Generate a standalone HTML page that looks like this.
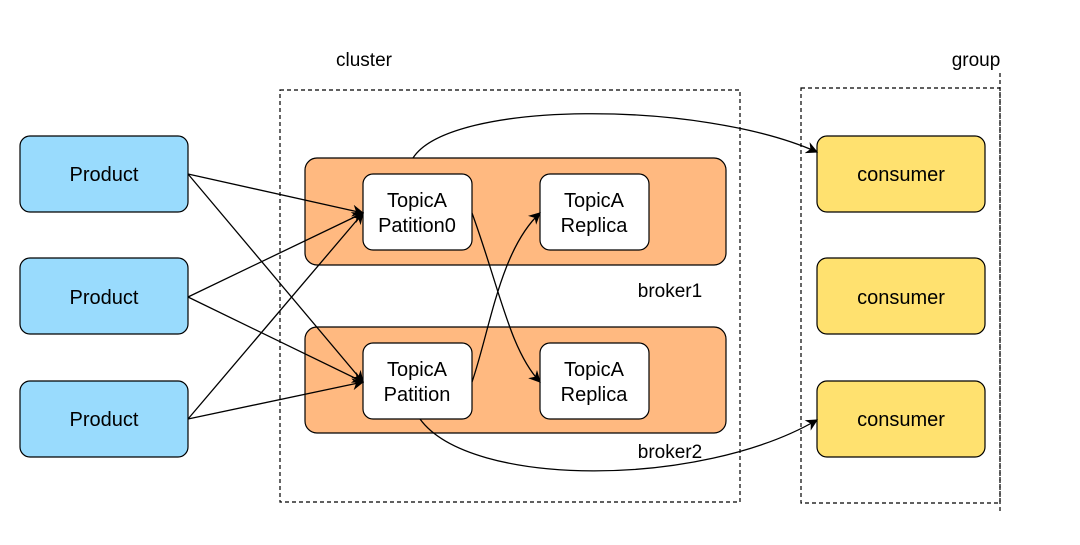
<!DOCTYPE html>
<html><head><style>
body{margin:0;background:#fff;width:1080px;height:540px;overflow:hidden}
</style></head><body>
<svg width="1080" height="540" xmlns="http://www.w3.org/2000/svg" font-family="Liberation Sans, Arial, sans-serif">
<defs><marker id="a" viewBox="0 0 10 10" refX="9" refY="5" markerWidth="12" markerHeight="12" markerUnits="userSpaceOnUse" orient="auto"><path d="M0,0 L10,5 L0,10 L3,5 z" fill="#000"/></marker></defs>
<rect x="280" y="90" width="460" height="412" fill="none" stroke="#000" stroke-dasharray="4,3" stroke-width="1.2"/>
<rect x="801" y="88" width="199" height="415" fill="none" stroke="#000" stroke-dasharray="4,3" stroke-width="1.2"/>
<line x1="1000" y1="73" x2="1000" y2="512" stroke="#000" stroke-dasharray="4,3" stroke-width="1.2"/>
<text x="364" y="66" font-size="19" text-anchor="middle">cluster</text>
<text x="976" y="66" font-size="19" text-anchor="middle">group</text>
<g fill="#99dbfd" stroke="#000" stroke-width="1.2">
<rect x="20" y="136" width="168" height="76" rx="10"/>
<rect x="20" y="258" width="168" height="76" rx="10"/>
<rect x="20" y="381" width="168" height="76" rx="10"/>
</g>
<g fill="#ffe16f" stroke="#000" stroke-width="1.2">
<rect x="817" y="136" width="168" height="76" rx="10"/>
<rect x="817" y="258" width="168" height="76" rx="10"/>
<rect x="817" y="381" width="168" height="76" rx="10"/>
</g>
<g fill="#ffb980" stroke="#000" stroke-width="1.2">
<rect x="305" y="158" width="421" height="107" rx="12"/>
<rect x="305" y="327" width="421" height="106" rx="12"/>
</g>
<g fill="#fff" stroke="#000" stroke-width="1.2">
<rect x="363" y="174" width="109" height="76" rx="10"/>
<rect x="540" y="174" width="109" height="76" rx="10"/>
<rect x="363" y="343" width="109" height="76" rx="10"/>
<rect x="540" y="343" width="109" height="76" rx="10"/>
</g>
<g font-size="20" text-anchor="middle">
<text x="104" y="181">Product</text><text x="104" y="304">Product</text><text x="104" y="426">Product</text>
<text x="901" y="181">consumer</text><text x="901" y="304">consumer</text><text x="901" y="426">consumer</text>
<text x="417" y="207">TopicA</text><text x="417" y="232">Patition0</text>
<text x="594" y="207">TopicA</text><text x="594" y="232">Replica</text>
<text x="417" y="376">TopicA</text><text x="417" y="401">Patition</text>
<text x="594" y="376">TopicA</text><text x="594" y="401">Replica</text>
<text x="670" y="297" font-size="19">broker1</text>
<text x="670" y="458" font-size="19">broker2</text>
</g>
<g fill="none" stroke="#000" stroke-width="1.3" marker-end="url(#a)">
<line x1="188" y1="174" x2="363" y2="213"/>
<line x1="188" y1="174" x2="363" y2="382"/>
<line x1="188" y1="297" x2="363" y2="213"/>
<line x1="188" y1="297" x2="363" y2="382"/>
<line x1="188" y1="419" x2="363" y2="213"/>
<line x1="188" y1="419" x2="363" y2="382"/>
<path d="M472,213 C500,290 510,350 540,382"/>
<path d="M472,382 C490,330 500,250 540,213"/>
<path d="M413,158 C450,100 700,100 817,152"/>
<path d="M420,419 C470,488 700,488 817,420"/>
</g>
</svg>
</body></html>
